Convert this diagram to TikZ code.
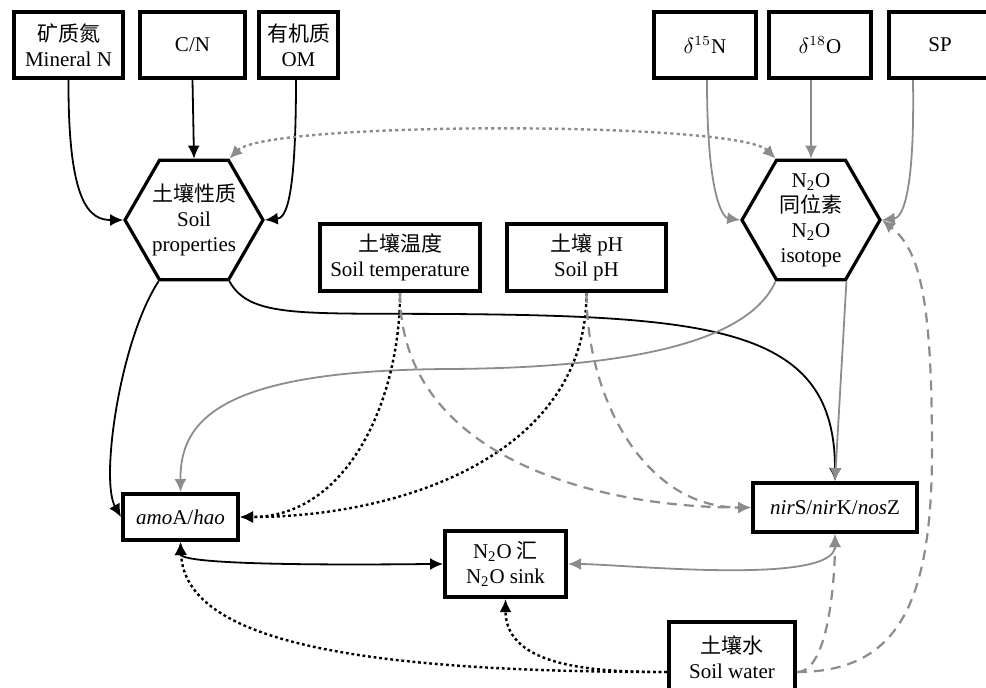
\documentclass[tikz,border=0pt]{standalone}
\usepackage{fontspec}
\setmainfont{Liberation Serif}
\newfontfamily\cjk{Noto Sans CJK SC}
\usetikzlibrary{arrows.meta,shapes.geometric}
\definecolor{lightline}{RGB}{140,140,140}
\tikzset{
  factor/.style={draw,line width=2pt,align=center,inner sep=1pt,minimum height=33pt,
    font=\fontsize{10.5}{12.5}\selectfont},
  hexa/.style={draw,line width=1.6pt,regular polygon,regular polygon sides=6,
    minimum size=69pt,inner sep=-6pt,align=center,font=\fontsize{10.5}{12.5}\selectfont},
  link/.style={line width=0.9pt,->},
  greylink/.style={link,draw=lightline},
  dotlink/.style={line width=1.2pt,dash pattern=on 1.4pt off 1.4pt,->},
  greydot/.style={line width=1.2pt,dash pattern=on 1.6pt off 1.6pt,draw=lightline,<->},
  dashlink/.style={line width=1.1pt,dash pattern=on 5pt off 3.5pt,draw=lightline,->}
}
\begin{document}
\begin{tikzpicture}[x=0.5pt,y=-0.5pt,>={Latex[length=6.5pt,width=6pt]}]
  \useasboundingbox (0,0) rectangle (986,687);
  % top row
  \node[factor,minimum width=54.5pt] (minN) at (68.5,45) {{\cjk 矿质氮}\\Mineral N};
  \node[factor,minimum width=52.5pt] (cn) at (192.5,45) {C/N};
  \node[factor,minimum width=39.5pt] (om) at (298.5,45) {{\cjk 有机质}\\OM};
  \node[factor,minimum width=51pt] (d15) at (705,45) {$\delta^{15}$N};
  \node[factor,minimum width=51pt] (d18) at (820,45) {$\delta^{18}$O};
  \node[factor,minimum width=51pt] (sp) at (940,45) {SP};
  % hexagons
  \node[hexa] (lhex) at (194,220) {{\cjk 土壤性质}\\Soil\\properties};
  \node[hexa] (rhex) at (811,220) {N\textsubscript{2}O\\{\cjk 同位素}\\N\textsubscript{2}O\\isotope};
  % middle row
  \node[factor,minimum width=80pt,minimum height=33.5pt] (temp) at (400,257.5) {{\cjk 土壤温度}\\Soil temperature};
  \node[factor,minimum width=79.5pt,minimum height=33.5pt] (ph) at (586.5,257.5) {{\cjk 土壤} pH\\Soil pH};
  % bottom row
  \node[factor,minimum width=57.5pt,minimum height=23pt] (amo) at (180.5,517) {\textit{amo}A/\textit{hao}};
  \node[factor,minimum width=82pt,minimum height=24.5pt] (nir) at (835,507.5) {\textit{nir}S/\textit{nir}K/\textit{nos}Z};
  \node[factor,minimum width=60.5pt] (sink) at (505.5,564) {N\textsubscript{2}O {\cjk 汇}\\N\textsubscript{2}O sink};
  \node[factor,minimum width=63pt,minimum height=35pt] (water) at (732,657) {{\cjk 土壤水}\\Soil water};

  % drivers of the hexagons
  \draw[link] (minN.south) .. controls (68,205) and (90,220) .. (lhex.180);
  \draw[link] (cn.south) -- (lhex.north);
  \draw[link] (om.south -| 296,0) .. controls (296,205) and (285,218) .. (lhex.0);
  \draw[greylink] (d15.south -| 707,0) .. controls (707,205) and (725,218) .. (rhex.180);
  \draw[greylink] (d18.south -| rhex.north) -- (rhex.north);
  \draw[greylink] ([xshift=13pt]sp.south west) .. controls (915,205) and (900,218) .. (rhex.0);
  \draw[greydot] (rhex.120) to[out=135,in=45,looseness=0.25] (lhex.60);

  % hexagons to genes
  \draw[link] (lhex.240) .. controls (120,340) and (100,480) .. (amo.west);
  \draw[link] (lhex.300) .. controls (250,318) and (300,313) .. (450,314)
    .. controls (720,316) and (835,330) .. (nir.north);
  \draw[greylink] (rhex.240) .. controls (745,350) and (600,368) .. (450,369)
    .. controls (220,370) and (180,420) .. (amo.north);
  \draw[greylink] (rhex.300) -- (nir.north);

  % temperature and pH
  \draw[dotlink] (temp.south) to[out=-90,in=0] (amo.east);
  \draw[dotlink] (ph.south) to[out=-90,in=0] (amo.east);
  \draw[dashlink] (temp.south) to[out=-90,in=180] (nir.west);
  \draw[dashlink] (ph.south) to[out=-90,in=180] (nir.west);

  % sink
  \draw[link,<->] (amo.south) to[out=-90,in=180,looseness=0.25] (sink.west);
  \draw[greylink,<->] (sink.east) to[out=0,in=-90,looseness=0.5] (nir.south);

  % soil water
  \draw[dotlink] ([yshift=-7.5pt]water.west) .. controls (350,672) and (185,640) .. (amo.south);
  \draw[dotlink] ([yshift=-7.5pt]water.west) to[out=180,in=-90] (sink.south);
  \draw[dashlink] ([yshift=-7.5pt]water.east) to[out=0,in=-90,looseness=0.6] (nir.south);
  \draw[dashlink] ([yshift=-7.5pt]water.east) .. controls (900,672) and (932,600) .. (932,450)
    .. controls (932,300) and (920,250) .. (rhex.0);
\end{tikzpicture}
\end{document}
